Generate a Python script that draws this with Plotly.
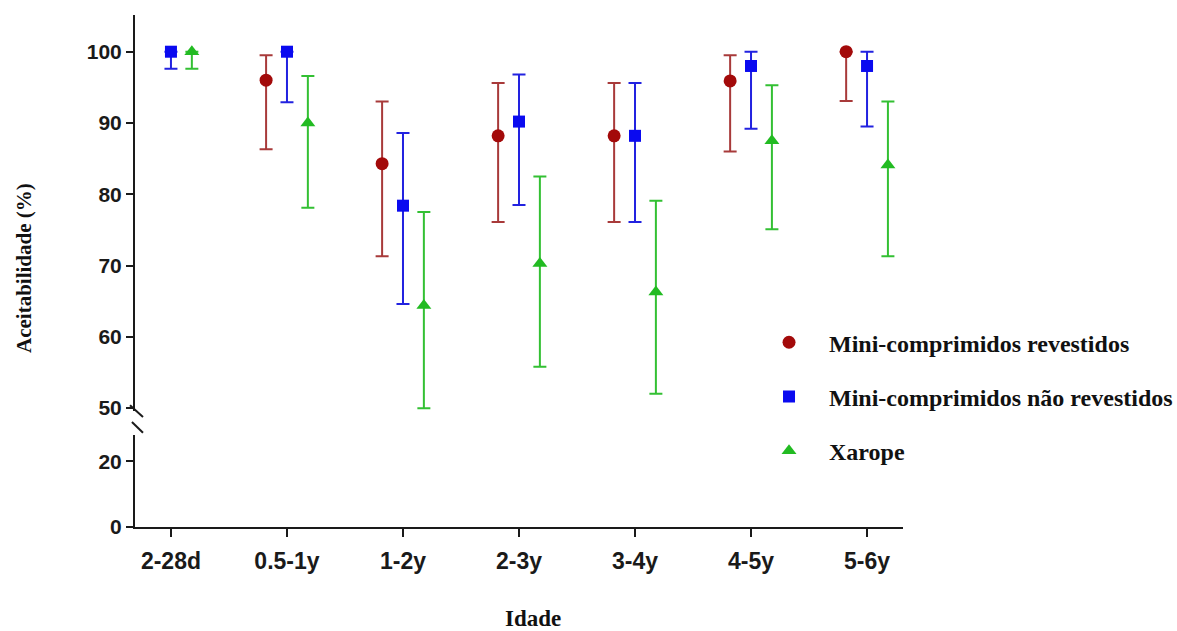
import plotly.graph_objects as go

categories = ["2-28d", "0.5-1y", "1-2y", "2-3y", "3-4y", "4-5y", "5-6y"]

# Mini-comprimidos revestidos
red_val = [None, 96.0, 84.3, 88.2, 88.2, 95.9, 100.0]
red_hi = [None, 99.5, 93.0, 95.6, 95.6, 99.5, 100.0]
red_lo = [None, 86.3, 71.3, 76.1, 76.1, 86.0, 93.1]

# Mini-comprimidos não revestidos
blue_val = [100.0, 100.0, 78.4, 90.2, 88.2, 98.0, 98.0]
blue_hi = [100.0, 100.0, 88.6, 96.8, 95.6, 100.0, 100.0]
blue_lo = [97.6, 92.9, 64.6, 78.5, 76.1, 89.2, 89.5]

# Xarope
green_val = [100.0, 90.0, 64.4, 70.3, 66.3, 87.5, 84.1]
green_hi = [100.0, 96.6, 77.5, 82.5, 79.1, 95.3, 93.0]
green_lo = [97.6, 78.1, 50.0, 55.8, 52.0, 75.1, 71.3]

series = [
    ("Mini-comprimidos revestidos", red_val, red_hi, red_lo, -0.18, "circle", "#A30A0A", "#A83A3A", 13),
    ("Mini-comprimidos não revestidos", blue_val, blue_hi, blue_lo, 0.0, "square", "#0A0AF0", "#2222E0", 12),
    ("Xarope", green_val, green_hi, green_lo, 0.18, "triangle-up", "#22BB22", "#33C033", 13),
]

fig = go.Figure()
# placeholder trace so the lower (broken) y-axis segment is drawn
fig.add_trace(go.Scatter(x=[None], y=[None], yaxis="y", showlegend=False, hoverinfo="skip", mode="markers"))
for name, val, hi, lo, off, sym, mcol, ecol, ms in series:
    xs, ys, up, dn = [], [], [], []
    for k, v in enumerate(val):
        if v is None:
            continue
        xs.append(k + off)
        ys.append(v)
        up.append(hi[k] - v)
        dn.append(v - lo[k])
    fig.add_trace(go.Scatter(
        x=xs, y=ys, mode="markers", name=name, yaxis="y2",
        marker=dict(symbol=sym, size=ms, color=mcol, line=dict(width=0)),
        error_y=dict(type="data", symmetric=False, array=up, arrayminus=dn,
                     color=ecol, thickness=2, width=6.5),
        legendgroup=name,
    ))

axis_font = dict(family="Liberation Sans, Arial", size=21, color="#1a1a1a", weight="bold")
serif_bold = dict(family="Liberation Serif, Times New Roman", color="#111111", weight="bold")

fig.update_layout(
    width=1177, height=631,
    margin=dict(l=135, r=274, t=15, b=104, autoexpand=False),
    paper_bgcolor="white", plot_bgcolor="white",
    showlegend=True,
    legend=dict(x=0.7995, y=0.404, xanchor="left", yanchor="top",
                font=dict(size=24, **serif_bold), tracegroupgap=20, itemwidth=70,
                bgcolor="rgba(0,0,0,0)", itemsizing="trace"),
    xaxis=dict(range=[-0.31, 6.31], tickmode="array", tickvals=list(range(len(categories))),
               ticktext=categories, showline=True, linecolor="#1a1a1a", linewidth=2,
               ticks="outside", ticklen=8, tickwidth=2, tickcolor="#1a1a1a",
               ticklabelstandoff=4,
               showgrid=False, zeroline=False, tickfont=dict(**{**axis_font, "size": 23}),
               anchor="y"),
    yaxis=dict(domain=[0, 0.1797], range=[0, 28], tickvals=[0, 20],
               showline=True, linecolor="#1a1a1a", linewidth=2,
               ticks="outside", ticklen=7, tickwidth=2, tickcolor="#1a1a1a",
               showgrid=False, zeroline=False, tickfont=axis_font, anchor="x"),
    yaxis2=dict(domain=[0.2266, 1], range=[49.6, 105.15], tickvals=[50, 60, 70, 80, 90, 100],
                showline=True, linecolor="#1a1a1a", linewidth=2,
                ticks="outside", ticklen=7, tickwidth=2, tickcolor="#1a1a1a",
                showgrid=False, zeroline=False, tickfont=axis_font, anchor="x"),
    annotations=[
        dict(text="Aceitabilidade (%)", xref="paper", yref="paper", x=-0.1445, y=0.506,
             textangle=-90, showarrow=False, font=dict(size=21, **serif_bold),
             xanchor="center", yanchor="middle"),
        dict(text="Idade", xref="paper", yref="paper", x=0.518, y=-0.179,
             showarrow=False, font=dict(size=23, **serif_bold),
             xanchor="center", yanchor="middle"),
    ],
    shapes=[
        dict(type="line", xref="paper", yref="paper", x0=-0.0065, y0=0.238, x1=0.0104, y1=0.215,
             line=dict(color="#1a1a1a", width=2)),
        dict(type="line", xref="paper", yref="paper", x0=-0.0040, y0=0.205, x1=0.0104, y1=0.184,
             line=dict(color="#1a1a1a", width=2)),
    ],
)

fig.write_html("out.html")
